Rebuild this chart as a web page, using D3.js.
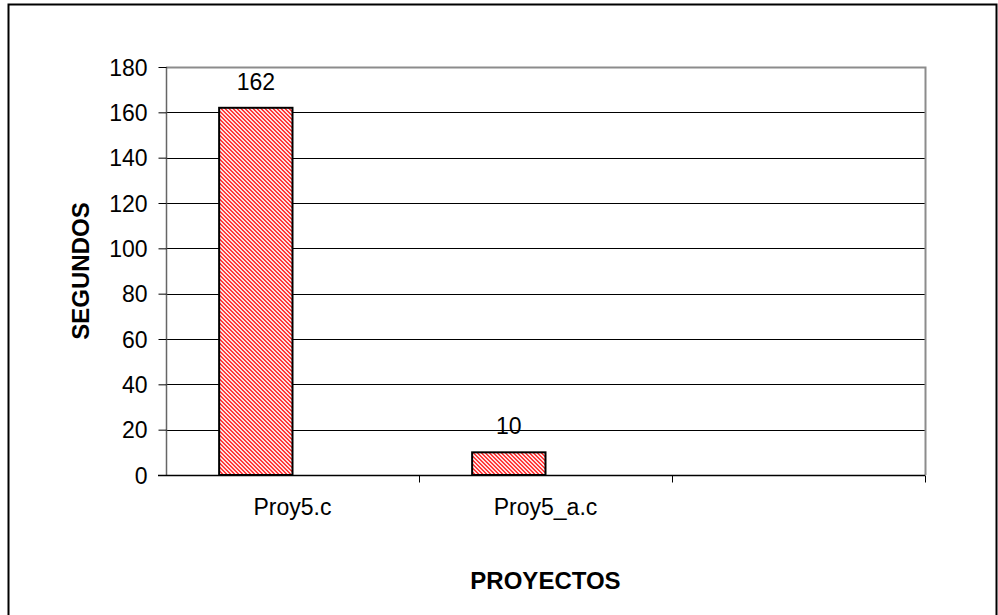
<!DOCTYPE html>
<html>
<head>
<meta charset="utf-8">
<script src="https://cdn.jsdelivr.net/npm/d3@7"></script>
<style>
  html, body { margin: 0; padding: 0; background: #fff; }
  svg { display: block; font-family: "Liberation Sans", Arial, sans-serif; }
</style>
</head>
<body>
<svg id="chart" width="998" height="615"></svg>
<script>
// Execution time per project
const categories = ["Proy5.c", "Proy5_a.c", ""];
const seconds = [162, 10, null];
const yTicks = [0, 20, 40, 60, 80, 100, 120, 140, 160, 180];
const yTitle = "SEGUNDOS";
const xTitle = "PROYECTOS";

const FONT = "Liberation Sans, Arial, sans-serif";
const svg = d3.select("#chart");
const plot = { left: 166, top: 67, right: 925, bottom: 475 };

// hatched fill for the bars
const defs = svg.append("defs");
const pat = defs.append("pattern")
  .attr("id", "hatch").attr("patternUnits", "userSpaceOnUse")
  .attr("width", 4).attr("height", 4);
pat.append("rect").attr("width", 4).attr("height", 4).attr("fill", "#ffe0e0");
for (let px = 0; px < 4; px++) {
  for (let py = 0; py < 4; py++) {
    if (((px - py + 4) % 4) < 2) {
      pat.append("rect").attr("x", px).attr("y", py).attr("width", 1).attr("height", 1).attr("fill", "#ff3a3a");
    }
  }
}

// outer frame
svg.append("rect")
  .attr("x", 8.5).attr("y", 4.5).attr("width", 988).attr("height", 640)
  .attr("fill", "none").attr("stroke", "#000").attr("stroke-width", 2);

const x = d3.scaleBand().domain(d3.range(categories.length))
  .range([plot.left, plot.right]).paddingInner(0).paddingOuter(0);
const y = d3.scaleLinear().domain([0, 180]).range([plot.bottom, plot.top]);

// gridlines
svg.append("g").selectAll("line").data(yTicks.filter(t => t > 0 && t < 180)).join("line")
  .attr("x1", plot.left).attr("x2", plot.right)
  .attr("y1", d => Math.round(y(d)) + 0.5).attr("y2", d => Math.round(y(d)) + 0.5)
  .attr("stroke", "#000").attr("stroke-width", 1);

// plot-area border (top and right)
svg.append("path")
  .attr("d", `M${plot.left},${plot.top + 0.5}H${plot.right + 0.5}V${plot.bottom}`)
  .attr("fill", "none").attr("stroke", "#8c8c8c").attr("stroke-width", 2);

// y axis
const yAxis = d3.axisLeft(y).tickValues(yTicks).tickSize(8).tickPadding(11);
const gy = svg.append("g").attr("transform", `translate(${plot.left + 0.5},0)`).call(yAxis);
gy.attr("font-size", null).attr("font-family", null);
gy.select(".domain").attr("stroke", "#666").attr("stroke-width", 1.5).attr("d", `M0,${plot.top}V${plot.bottom}`);
gy.selectAll(".tick line").attr("stroke", "#000");
gy.selectAll(".tick text").attr("font-size", 23).attr("fill", "#000")
  .attr("font-family", FONT).attr("dy", "0.35em");

// x axis
const xAxis = d3.axisBottom(x).tickFormat(i => categories[i]).tickSize(0).tickPadding(0);
const gx = svg.append("g").attr("transform", `translate(0,${plot.bottom + 0.5})`).call(xAxis);
gx.attr("font-size", null).attr("font-family", null);
gx.select(".domain").attr("stroke", "#000").attr("stroke-width", 1.5).attr("d", `M${plot.left - 8},0H${plot.right}`);
gx.selectAll(".tick text").attr("font-size", 23).attr("fill", "#000")
  .attr("font-family", FONT).attr("dy", null).attr("y", 39);
// category separators
gx.append("g").selectAll("line").data(d3.range(1, categories.length + 1)).join("line")
  .attr("x1", i => Math.round(plot.left + i * x.bandwidth()) + 0.5)
  .attr("x2", i => Math.round(plot.left + i * x.bandwidth()) + 0.5)
  .attr("y1", 0).attr("y2", 7).attr("stroke", "#000");

// bars (first of two slots in each band)
const barW = x.bandwidth() * 0.29;
const gap = (x.bandwidth() - 2 * barW) / 2;
const bars = categories.map((c, i) => ({ i, v: seconds[i] })).filter(d => d.v != null);
svg.append("g").selectAll("rect").data(bars).join("rect")
  .attr("x", d => x(d.i) + gap)
  .attr("y", d => y(d.v))
  .attr("width", barW)
  .attr("height", d => y(0) - y(d.v))
  .attr("fill", "url(#hatch)")
  .attr("stroke", "#000").attr("stroke-width", 2);

// value labels
svg.append("g").selectAll("text").data(bars).join("text")
  .attr("x", d => x(d.i) + gap + barW / 2)
  .attr("y", d => y(d.v) - 18)
  .attr("text-anchor", "middle")
  .attr("font-size", 23).attr("fill", "#000")
  .text(d => d.v);

// axis titles
svg.append("text")
  .attr("transform", `translate(89,${(plot.top + plot.bottom) / 2}) rotate(-90)`)
  .attr("text-anchor", "middle").attr("font-size", 24).attr("font-weight", "bold")
  .text(yTitle);
svg.append("text")
  .attr("x", (plot.left + plot.right) / 2).attr("y", 589)
  .attr("text-anchor", "middle").attr("font-size", 24).attr("font-weight", "bold")
  .text(xTitle);
</script>
</body>
</html>
